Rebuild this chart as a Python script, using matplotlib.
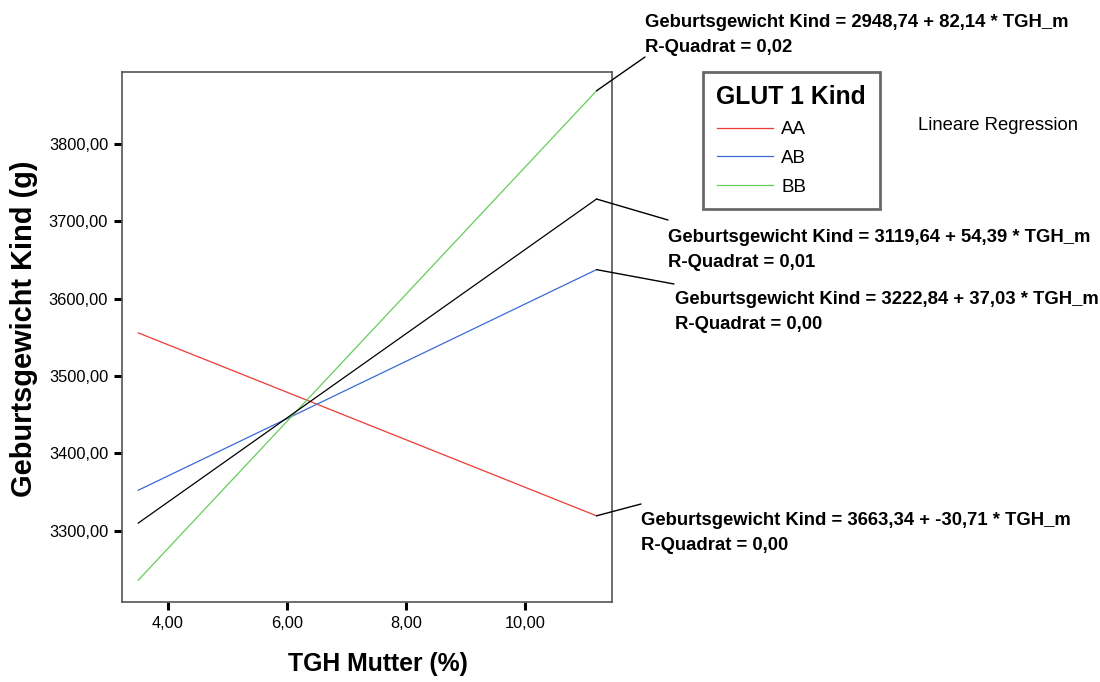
import matplotlib
matplotlib.use("Agg")
import matplotlib.pyplot as plt
import numpy as np

plt.rcParams['font.family'] = ['Liberation Sans', 'DejaVu Sans']

W, H = 1100, 682

# Regressionsgeraden: Geburtsgewicht Kind = a + b * TGH_m
gruppen = ["AA", "AB", "BB", "Gesamt"]
farben = ["#ee3b35", "#3b6ad6", "#66cc5c", "black"]
achsenabschnitt = [3663.34, 3222.84, 2948.74, 3119.64]
steigung = [-30.71, 37.03, 82.14, 54.39]
r_quadrat = ["0,00", "0,00", "0,02", "0,01"]
tgh_bereich = np.array([3.5, 11.2])

# Textposition der Gleichungen (Pixel) und Ende der Verbindungslinie
text_pos = [(641, 533), (675, 312), (645, 35), (668, 250)]
linie_pos = [(641, 504), (674, 284), (645, 57), (668, 220)]


def px(x, y):
    return (x / W, 1 - y / H)


def komma(v):
    return f"{v:.2f}".replace(".", ",")


fig = plt.figure(figsize=(W / 100, H / 100), dpi=100)
ax = fig.add_axes([122 / W, 1 - 602 / H, 490 / W, 530 / H])

handles = []
for i, g in enumerate(gruppen):
    y = achsenabschnitt[i] + steigung[i] * tgh_bereich
    line, = ax.plot(tgh_bereich, y, color=farben[i], lw=0.9)
    if g != "Gesamt":
        handles.append(line)
    ax.annotate("", xy=(tgh_bereich[-1], y[-1]), xycoords='data',
                xytext=px(*linie_pos[i]), textcoords='figure fraction',
                arrowprops=dict(arrowstyle='-', color='black', lw=1,
                                shrinkA=0, shrinkB=0),
                annotation_clip=False)
    txt = ("Geburtsgewicht Kind = " + komma(achsenabschnitt[i]) + " + "
           + komma(steigung[i]) + " * TGH_m\nR-Quadrat = " + r_quadrat[i])
    fig.text(*px(*text_pos[i]), txt, fontsize=13.3, fontweight='bold',
             ha='left', va='center', linespacing=1.6)

ax.set_xlim(3.227, 11.46)
ax.set_ylim(3208, 3893)
ax.set_xticks([4, 6, 8, 10])
ax.set_yticks([3300, 3400, 3500, 3600, 3700, 3800])
ax.xaxis.set_major_formatter(lambda v, p: komma(v))
ax.yaxis.set_major_formatter(lambda v, p: komma(v))
ax.tick_params(direction='out', length=6, width=2.2, labelsize=11.8, pad=4)
for s in ax.spines.values():
    s.set_color('#555555')
    s.set_linewidth(1.2)

ax.set_xlabel("TGH Mutter (%)", fontsize=17.8, fontweight='bold')
ax.xaxis.set_label_coords(0.522, -0.094)
ax.set_ylabel("Geburtsgewicht Kind (g)", fontsize=20.9, fontweight='bold')
ax.yaxis.set_label_coords(-0.171, 0.515)

leg = fig.legend(handles, gruppen[:3], title="GLUT 1 Kind",
                 loc='upper left', bbox_to_anchor=px(703, 72),
                 fontsize=13.5, title_fontproperties={'weight': 'bold', 'size': 17.8},
                 alignment='left', frameon=True, fancybox=False,
                 handlelength=3.0, handletextpad=0.45, labelspacing=0.62,
                 borderpad=0.72, borderaxespad=0)
leg.get_frame().set_edgecolor('#444444')
leg.get_frame().set_linewidth(2)

fig.text(*px(918, 125), "Lineare Regression", fontsize=13.3,
         ha='left', va='center')

fig.savefig("out.png", dpi=100)
